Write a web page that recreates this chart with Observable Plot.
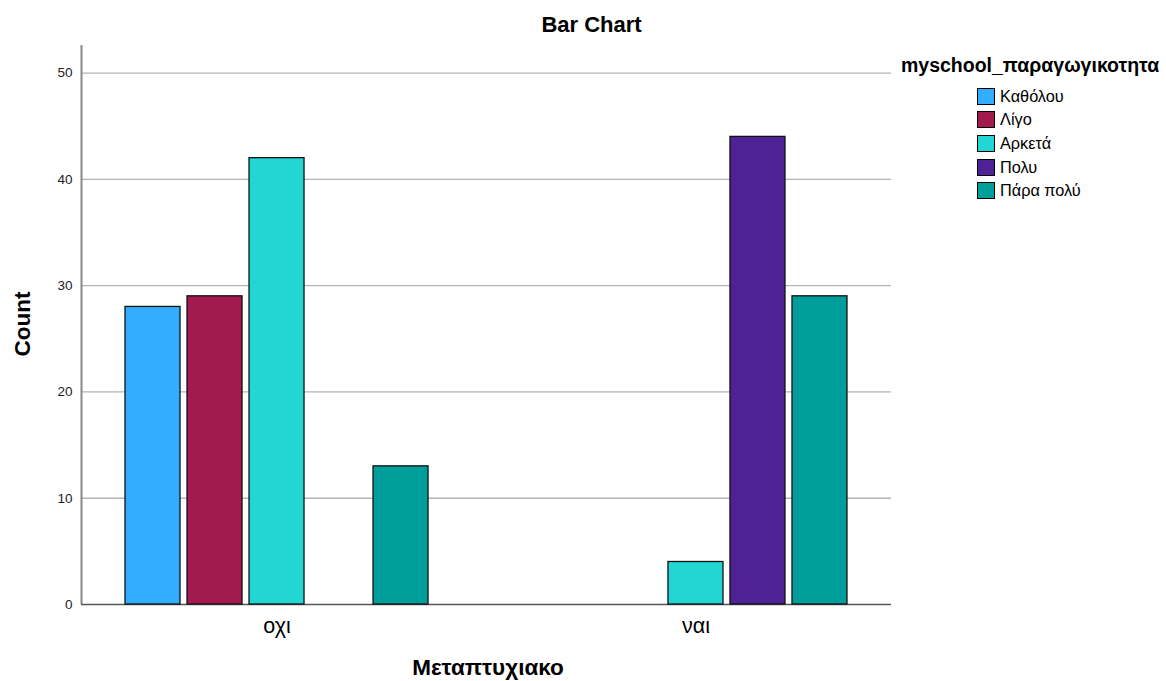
<!DOCTYPE html>
<html>
<head>
<meta charset="utf-8">
<script src="https://cdn.jsdelivr.net/npm/d3@7"></script>
<script src="https://cdn.jsdelivr.net/npm/@observablehq/plot@0.6"></script>
<style>
  html, body { margin: 0; padding: 0; background: #fff; }
  #wrap { position: relative; width: 1166px; height: 681px; font-family: "Liberation Sans", Arial, sans-serif; color: #000; overflow: hidden; }
  #wrap svg { position: absolute; left: 0; top: 0; }
  .abs { position: absolute; white-space: nowrap; }
  #title { left: 0; width: 1183px; top: 12px; line-height: 25px; text-align: center; font-size: 22px; font-weight: bold; }
  #ylab { left: 22.5px; top: 324px; transform: translate(-50%, -50%) rotate(-90deg); font-size: 22.5px; line-height: 26px; font-weight: bold; }
  #xlab { left: 488px; top: 668px; transform: translate(-50%, -50%); font-size: 22.5px; line-height: 26px; font-weight: bold; }
  #legend { left: 901px; top: 53.5px; }
  #legend .lt { font-size: 19.5px; line-height: 22px; font-weight: bold; margin-bottom: 9px; }
  #legend .row { display: flex; align-items: center; margin-left: 76px; height: 23.6px; font-size: 16.3px; }
  #legend .sw { width: 16px; height: 15px; border: 1.2px solid #000; margin-right: 5px; }
</style>
</head>
<body>
<div id="wrap">
  <div id="bg"></div>
  <div id="fg"></div>
  <div id="title" class="abs">Bar Chart</div>
  <div id="ylab" class="abs">Count</div>
  <div id="xlab" class="abs">Μεταπτυχιακο</div>
  <div id="legend" class="abs"></div>
</div>
<script>
const groups = ["οχι", "ναι"];
const categories = ["Καθόλου", "Λίγο", "Αρκετά", "Πολυ", "Πάρα πολύ"];
const countsOxi = [28, 29, 42, null, 13];
const countsNai = [null, null, 4, 44, 29];
const colors = ["#33adff", "#a31a4e", "#22d6d4", "#4f2196", "#009e9a"];
const yTicks = [0, 10, 20, 30, 40, 50];
const legendTitle = "myschool_παραγωγικοτητα";

const data = [];
categories.forEach((c, i) => {
  if (countsOxi[i] != null) data.push({group: groups[0], cat: c, count: countsOxi[i]});
  if (countsNai[i] != null) data.push({group: groups[1], cat: c, count: countsNai[i]});
});

const W = 1166, H = 681;
const margins = {marginLeft: 81, marginRight: 275, marginTop: 45, marginBottom: 77};
const yDomain = [0, 52.6];

const bg = Plot.plot({
  width: W, height: H, ...margins,
  style: {fontFamily: "Liberation Sans, Arial, sans-serif", background: "white"},
  x: {domain: [0, 1], axis: null},
  y: {domain: yDomain, axis: null},
  marks: [
    Plot.gridY(yTicks.filter(d => d > 0), {stroke: "#b4b4b4", strokeOpacity: 1, strokeWidth: 1.3}),
    Plot.axisY(yTicks, {tickSize: 0, tickPadding: 9, fontSize: 13.5, label: null, fill: "#222"}),
    Plot.ruleX([0], {stroke: "#888", strokeWidth: 2}),
    Plot.ruleY([0], {stroke: "#555", strokeWidth: 1.5})
  ]
});
document.getElementById("bg").appendChild(bg);

const fg = Plot.plot({
  width: W, height: H, ...margins,
  style: {fontFamily: "Liberation Sans, Arial, sans-serif", background: "transparent"},
  fx: {domain: groups, paddingInner: 0.26, paddingOuter: 0.0967, label: null, round: false},
  x: {domain: categories, paddingInner: 0.113, paddingOuter: 0.0565, axis: null, round: false},
  y: {domain: yDomain, axis: null},
  color: {domain: categories, range: colors},
  marks: [
    Plot.barY(data, {fx: "group", x: "cat", y: "count", fill: "cat", stroke: "#111", strokeWidth: 1.3}),
    Plot.axisFx({anchor: "bottom", tickSize: 0, tickPadding: 13, fontSize: 21.5, label: null, fill: "#000"})
  ]
});
document.getElementById("fg").appendChild(fg);

const leg = document.getElementById("legend");
const lt = document.createElement("div");
lt.className = "lt";
lt.textContent = legendTitle;
leg.appendChild(lt);
categories.forEach((c, i) => {
  const row = document.createElement("div");
  row.className = "row";
  const sw = document.createElement("div");
  sw.className = "sw";
  sw.style.background = colors[i];
  const tx = document.createElement("span");
  tx.textContent = c;
  row.appendChild(sw);
  row.appendChild(tx);
  leg.appendChild(row);
});
</script>
</body>
</html>
